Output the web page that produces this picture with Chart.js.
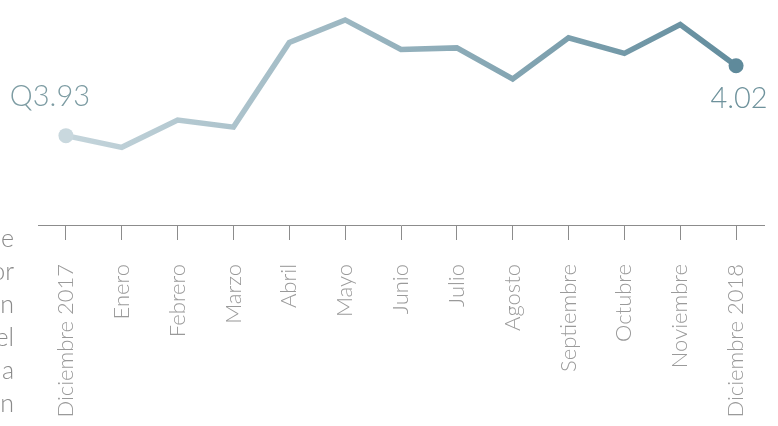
<!DOCTYPE html>
<html lang="es">
<head>
    <meta charset="UTF-8">
    <title>Tipo de cambio</title>
    <script src="https://cdn.jsdelivr.net/npm/chart.js"></script>
    <style>
        html, body {
            margin: 0;
            padding: 0;
            background: #fff;
            overflow: hidden;
        }
        .wrap {
            position: relative;
            width: 778px;
            height: 426px;
        }
        .side-text {
            position: absolute;
            left: -200px;
            top: 221px;
            width: 214px;
            text-align: right;
            font-family: Lato, "Open Sans", sans-serif;
            font-weight: 300;
            font-size: 25px;
            line-height: 33px;
            color: #8a8a8a;
        }
    </style>
</head>
<body>
    <div class="wrap">
        <div class="side-text">e<br>or<br>n<br>el<br>a<br>n</div>
        <canvas id="rateChart" width="778" height="426"></canvas>
    </div>
    <script>
        const months = ['Diciembre 2017', 'Enero', 'Febrero', 'Marzo', 'Abril', 'Mayo', 'Junio',
            'Julio', 'Agosto', 'Septiembre', 'Octubre', 'Noviembre', 'Diciembre 2018'];
        const rates = [3.930, 3.915, 3.950, 3.941, 4.050, 4.079, 4.041, 4.043, 4.003, 4.056, 4.036, 4.073, 4.020];
        const startLabel = 'Q3.93';
        const endLabel = '4.02';

        const lightColor = '#c9d8de';
        const darkColor = '#5f8a9b';

        function lineGradient(context) {
            const chart = context.chart;
            const area = chart.chartArea;
            if (!area) return darkColor;
            const g = chart.ctx.createLinearGradient(area.left, 0, area.right, 0);
            g.addColorStop(0, lightColor);
            g.addColorStop(1, darkColor);
            return g;
        }

        // draws the start / end value next to the end points
        const endLabels = {
            id: 'endLabels',
            afterDatasetsDraw(chart) {
                const pts = chart.getDatasetMeta(0).data;
                const first = pts[0];
                const last = pts[pts.length - 1];
                const ctx = chart.ctx;
                ctx.save();
                ctx.font = '300 29px Lato, "Open Sans", sans-serif';
                ctx.textBaseline = 'alphabetic';
                ctx.textAlign = 'center';
                ctx.fillStyle = '#7d9ca3';
                ctx.fillText(startLabel, first.x - 16, first.y - 30);
                ctx.fillStyle = '#6e929c';
                ctx.fillText(endLabel, last.x + 3, last.y + 42);
                ctx.restore();
            }
        };

        new Chart(document.getElementById('rateChart'), {
            type: 'line',
            data: {
                labels: months,
                datasets: [{
                    data: rates,
                    borderColor: lineGradient,
                    borderWidth: 5.5,
                    borderJoinStyle: 'miter',
                    tension: 0,
                    pointRadius: rates.map((v, i) => (i === 0 || i === rates.length - 1) ? 7.5 : 0),
                    pointBackgroundColor: rates.map((v, i) => i === 0 ? lightColor : darkColor),
                    pointBorderWidth: 0,
                    fill: false
                }]
            },
            options: {
                responsive: false,
                animation: false,
                layout: {
                    padding: { left: 38, right: 14, top: 0, bottom: 0 }
                },
                plugins: {
                    legend: { display: false },
                    tooltip: { enabled: false }
                },
                scales: {
                    x: {
                        offset: true,
                        afterFit(scale) {
                            scale.height = 201;
                            scale.paddingLeft = 0;
                            scale.paddingRight = 0;
                        },
                        grid: {
                            drawOnChartArea: false,
                            drawTicks: true,
                            tickLength: 15,
                            color: '#8c8c8c',
                            offset: false
                        },
                        border: {
                            display: true,
                            color: '#8c8c8c',
                            width: 1
                        },
                        ticks: {
                            minRotation: 90,
                            maxRotation: 90,
                            autoSkip: false,
                            padding: 24,
                            color: '#9a9a9a',
                            font: { family: 'Lato, "Open Sans", sans-serif', weight: '300', size: 22 }
                        }
                    },
                    y: {
                        display: false,
                        min: 3.815,
                        max: 4.095
                    }
                }
            },
            plugins: [endLabels]
        });
    </script>
</body>
</html>
